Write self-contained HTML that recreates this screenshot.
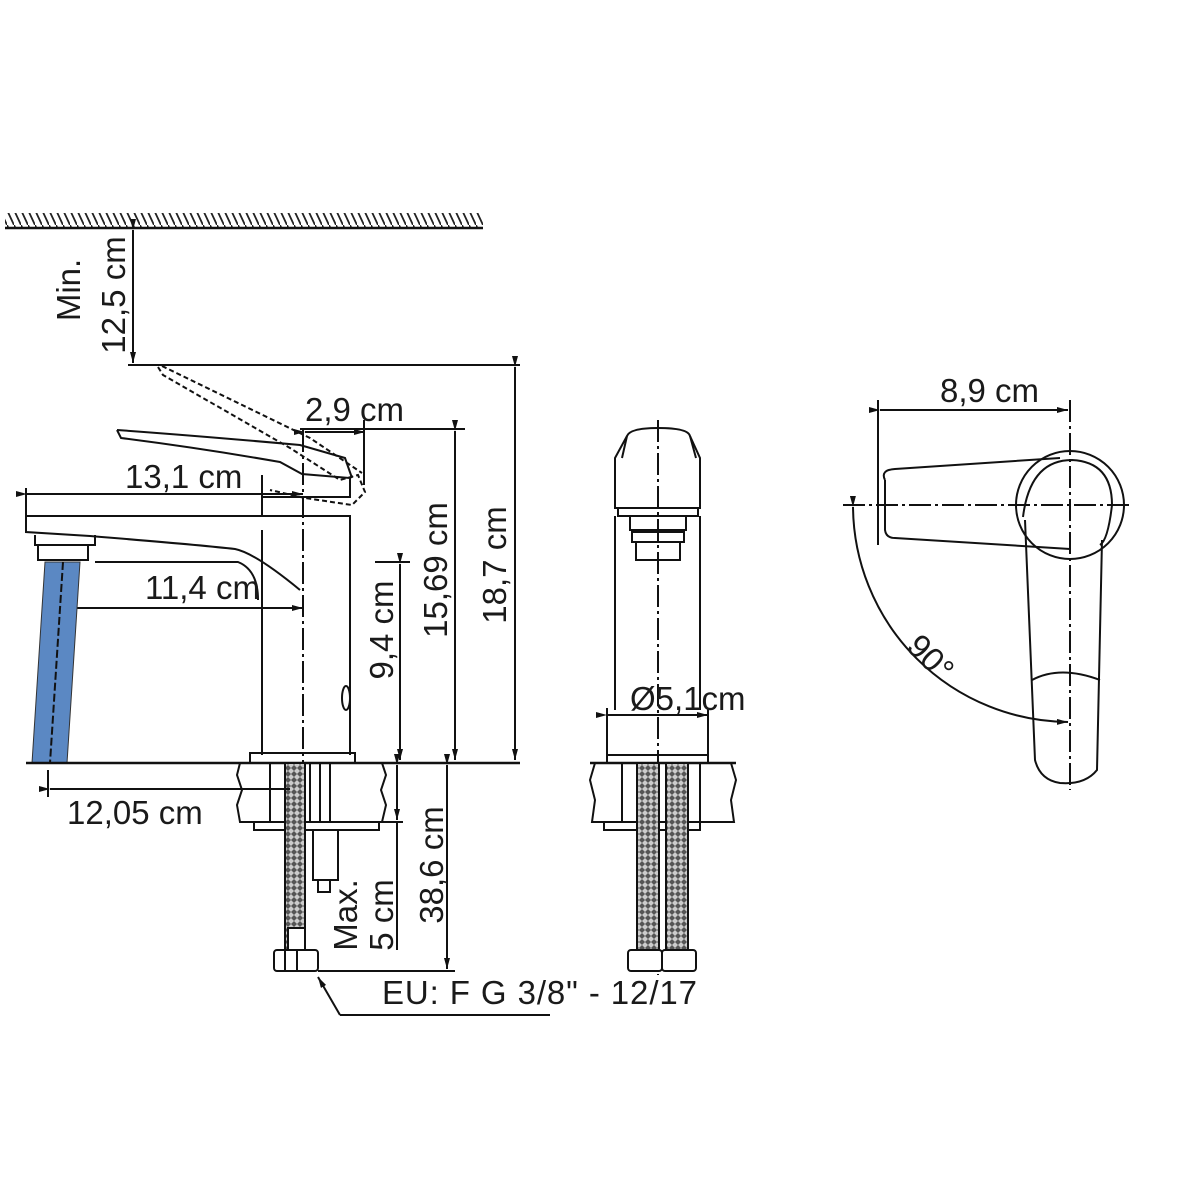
<!DOCTYPE html>
<html><head><meta charset="utf-8"><style>
html,body{margin:0;padding:0;background:#fff;}
svg{display:block;}
text{font-family:"Liberation Sans",sans-serif;fill:#1a1a1a;}
</style></head><body>
<svg width="1200" height="1200" viewBox="0 0 1200 1200" xmlns="http://www.w3.org/2000/svg">
<defs>
<pattern id="hatch" width="7" height="15" patternUnits="userSpaceOnUse">
<line x1="0" y1="0" x2="7" y2="15" stroke="#222" stroke-width="1.8"/>
</pattern>
<pattern id="braid" width="6" height="6" patternUnits="userSpaceOnUse">
<rect width="6" height="6" fill="#555"/>
<path d="M0 3 L3 0 L6 3 L3 6Z" fill="#ccc"/>
</pattern>
<marker id="ar" markerWidth="11" markerHeight="6" refX="11" refY="3" orient="auto" markerUnits="userSpaceOnUse">
<path d="M0 0 L11 3 L0 6Z" fill="#111"/>
</marker>
</defs>
<g stroke="#111" stroke-width="2" fill="none">
<rect x="5" y="213" width="478" height="15" fill="url(#hatch)" stroke="none"/>
<line x1="5" y1="228" x2="483" y2="228" stroke-width="2.5"/>
<line x1="133" y1="230" x2="133" y2="363" marker-start="url(#ar)" marker-end="url(#ar)"/>
<line x1="128" y1="365" x2="520" y2="365"/>
<line x1="515" y1="367" x2="515" y2="760" marker-start="url(#ar)" marker-end="url(#ar)"/>
<line x1="300" y1="429" x2="465" y2="429"/>
<line x1="455" y1="431" x2="455" y2="760" marker-start="url(#ar)" marker-end="url(#ar)"/>
<line x1="375" y1="562" x2="410" y2="562"/>
<line x1="400" y1="564" x2="400" y2="760" marker-start="url(#ar)" marker-end="url(#ar)"/>
<line x1="305" y1="432" x2="365" y2="432" marker-start="url(#ar)" marker-end="url(#ar)"/>
<line x1="364" y1="420" x2="364" y2="485"/>
<line x1="27" y1="494" x2="303" y2="494" marker-start="url(#ar)" marker-end="url(#ar)"/>
<line x1="26" y1="488" x2="26" y2="532"/>
<line x1="67" y1="608" x2="303" y2="608" marker-start="url(#ar)" marker-end="url(#ar)"/>
<line x1="303" y1="430" x2="303" y2="900" stroke-dasharray="22,4,3,4"/>
<path d="M117 430 L121 438 Q200 448 280 462 L302 474 L350 478 L350 497 L262 497 L262 475"/>
<path d="M117 430 Q200 436 300 445 L345 458 L352 478"/>
<path d="M158 367 L163 375 L290 448 L340 480 L358 475 L365 492 L352 505 L305 498 L270 490 M162 366 L310 438 L362 473" stroke-dasharray="5,3"/>
<path d="M26 516 L350 516 L350 755 M262 497 L262 516 M262 530 L262 755"/>
<path d="M26 516 L26 532 L90 536 Q200 545 235 549 Q255 553 300 590"/>
<path d="M95 562 L238 562 Q258 570 258 600"/>
<path d="M35 535 L35 545 L95 545 L95 535 M38 545 L38 560 L88 560 L88 545"/>
<ellipse cx="346" cy="698" rx="4" ry="12"/>
<polygon points="45,562 80,562 67,763 32,763" fill="#5b88c3" stroke="#333" stroke-width="1"/>
<line x1="63" y1="562" x2="50" y2="763" stroke-dasharray="8,3"/>
<line x1="26" y1="763" x2="520" y2="763" stroke-width="2.5"/>
<rect x="250" y="753" width="105" height="10"/>
<path d="M240 763 L237 775 L242 790 L237 805 L240 822 L382 822 L386 805 L381 790 L386 775 L382 763"/>
<line x1="270" y1="763" x2="270" y2="822"/><line x1="330" y1="763" x2="330" y2="822"/>
<line x1="320" y1="763" x2="320" y2="822"/><line x1="310" y1="763" x2="310" y2="822"/>
<rect x="254" y="822" width="125" height="8"/>
<rect x="285" y="763" width="20" height="187" fill="url(#braid)"/>
<rect x="313" y="830" width="25" height="50"/>
<rect x="318" y="880" width="12" height="12"/>
<rect x="288" y="928" width="17" height="22" fill="#fff"/>
<rect x="274" y="950" width="44" height="21" rx="3" fill="#fff"/>
<line x1="285" y1="950" x2="285" y2="971"/><line x1="297" y1="950" x2="297" y2="971"/>
<line x1="48" y1="770" x2="48" y2="797"/>
<line x1="50" y1="789" x2="290" y2="789" marker-start="url(#ar)"/>
<line x1="397" y1="765" x2="397" y2="820" marker-start="url(#ar)" marker-end="url(#ar)"/>
<line x1="397" y1="822" x2="397" y2="950"/>
<line x1="380" y1="822" x2="403" y2="822"/>
<line x1="447" y1="765" x2="447" y2="969" marker-start="url(#ar)" marker-end="url(#ar)"/>
<line x1="318" y1="971" x2="455" y2="971"/>
<path d="M340 1015 L318 977" marker-end="url(#ar)"/>
<line x1="340" y1="1015" x2="550" y2="1015"/>

<line x1="658" y1="420" x2="658" y2="975" stroke-dasharray="22,4,3,4"/>
<path d="M627 436 Q630 428 658 428 Q688 428 690 436 L700 458 L700 508 L615 508 L615 458 Z"/>
<path d="M627 436 L622 458 M690 436 L696 458"/>
<rect x="618" y="508" width="80" height="8"/>
<path d="M615 516 L615 710 M700 516 L700 710 M630 516 L630 530 L686 530 L686 516"/>
<rect x="632" y="532" width="52" height="10"/>
<rect x="636" y="542" width="44" height="18"/>
<line x1="607" y1="715" x2="708" y2="715" marker-start="url(#ar)" marker-end="url(#ar)"/>
<line x1="607" y1="708" x2="607" y2="762"/><line x1="708" y1="708" x2="708" y2="762"/>
<rect x="607" y="755" width="101" height="8"/>
<path d="M595 763 L590 780 L595 800 L592 822 L734 822 L731 800 L736 780 L731 763 Z"/>
<line x1="590" y1="763" x2="736" y2="763" stroke-width="2.5"/>
<rect x="604" y="822" width="96" height="8"/>
<rect x="637" y="763" width="22" height="187" fill="url(#braid)"/>
<rect x="666" y="763" width="22" height="187" fill="url(#braid)"/>
<line x1="622" y1="763" x2="622" y2="822"/><line x1="700" y1="763" x2="700" y2="822"/>
<rect x="628" y="950" width="34" height="21" rx="3" fill="#fff"/>
<rect x="662" y="950" width="34" height="21" rx="3" fill="#fff"/>

<line x1="878" y1="400" x2="878" y2="545"/>
<line x1="1070" y1="400" x2="1070" y2="790" stroke-dasharray="22,4,3,4"/>
<line x1="880" y1="410" x2="1068" y2="410" marker-start="url(#ar)" marker-end="url(#ar)"/>
<line x1="843" y1="505" x2="1132" y2="505" stroke-dasharray="22,4,3,4"/>
<circle cx="1070" cy="505" r="54"/>
<path d="M1023 517 Q1030 460 1072 460 Q1112 462 1112 505 Q1108 540 1100 545 L1100 545"/>
<path d="M885 480 Q880 470 895 469 L1060 458 M885 480 L885 530 Q886 538 895 538 L1070 549"/>
<path d="M1025 520 L1035 760 Q1040 780 1060 783 Q1085 785 1097 770 L1102 540"/>
<path d="M1032 680 Q1060 665 1100 680"/>
<path d="M853 507 A217 217 0 0 0 1068 722" marker-start="url(#ar)" marker-end="url(#ar)"/>
</g>
<g font-size="33">
<text transform="translate(80,290) rotate(-90)" text-anchor="middle">Min.</text>
<text transform="translate(125,295) rotate(-90)" text-anchor="middle">12,5 cm</text>
<text x="305" y="421">2,9 cm</text>
<text x="125" y="488">13,1 cm</text>
<text x="145" y="599">11,4 cm</text>
<text transform="translate(393,630) rotate(-90)" text-anchor="middle">9,4 cm</text>
<text transform="translate(447,570) rotate(-90)" text-anchor="middle">15,69 cm</text>
<text transform="translate(506,565) rotate(-90)" text-anchor="middle">18,7 cm</text>
<text x="67" y="824">12,05 cm</text>
<text transform="translate(357,915) rotate(-90)" text-anchor="middle">Max.</text>
<text transform="translate(393,915) rotate(-90)" text-anchor="middle">5 cm</text>
<text transform="translate(443,865) rotate(-90)" text-anchor="middle">38,6 cm</text>
<text x="382" y="1004" textLength="315" lengthAdjust="spacing">EU: F G 3/8" - 12/17</text>
<text x="630" y="710">Ø5,1cm</text>
<text x="940" y="402">8,9 cm</text>
<text transform="translate(905,648) rotate(45)">90°</text>
</g>
</svg>
</body></html>
